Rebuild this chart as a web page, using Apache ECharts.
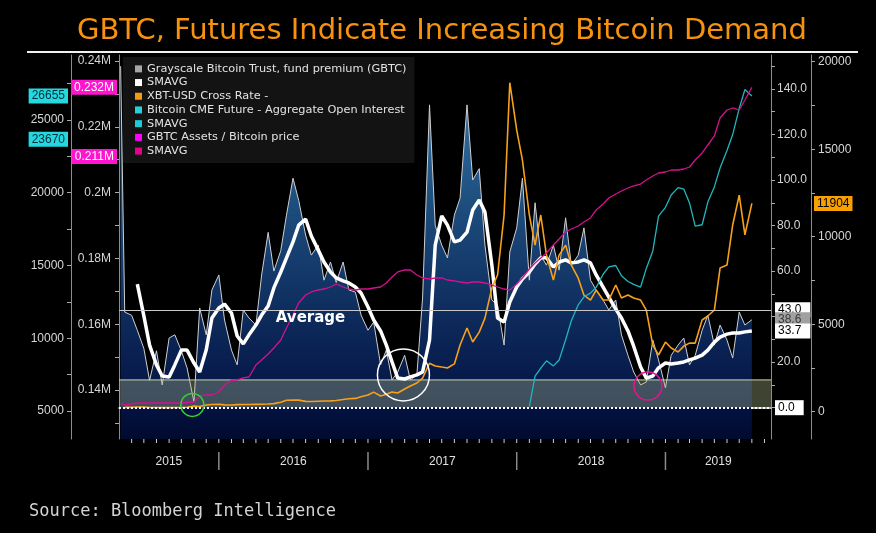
<!DOCTYPE html>
<html><head><meta charset="utf-8">
<script src="https://cdn.jsdelivr.net/npm/echarts@6/dist/echarts.min.js"></script>
<style>html,body{margin:0;padding:0;background:#000;}#c{width:876px;height:533px;}</style>
</head><body><div id="c"></div><script>
// ---- data (semi-monthly samples) ----
const dates = ['2015-05-05','2015-05-15','2015-06-01','2015-06-15','2015-07-01','2015-07-15','2015-08-01','2015-08-15','2015-09-01','2015-09-15','2015-10-01','2015-10-15','2015-11-01','2015-11-15','2015-12-01','2015-12-15',
'2016-01-01','2016-01-15','2016-02-01','2016-02-15','2016-03-01','2016-03-15','2016-04-01','2016-04-15','2016-05-01','2016-05-15','2016-06-01','2016-06-15','2016-07-01','2016-07-15','2016-08-01','2016-08-15','2016-09-01','2016-09-15','2016-10-01','2016-10-15','2016-11-01','2016-11-15','2016-12-01','2016-12-15',
'2017-01-01','2017-01-15','2017-02-01','2017-02-15','2017-03-01','2017-03-15','2017-04-01','2017-04-15','2017-05-01','2017-05-15','2017-06-01','2017-06-15','2017-07-01','2017-07-15','2017-08-01','2017-08-15','2017-09-01','2017-09-15','2017-10-01','2017-10-15','2017-11-01','2017-11-15','2017-12-01','2017-12-15',
'2018-01-01','2018-01-15','2018-02-01','2018-02-15','2018-03-01','2018-03-15','2018-04-01','2018-04-15','2018-05-01','2018-05-15','2018-06-01','2018-06-15','2018-07-01','2018-07-15','2018-08-01','2018-08-15','2018-09-01','2018-09-15','2018-10-01','2018-10-15','2018-11-01','2018-11-15','2018-12-01','2018-12-15',
'2019-01-01','2019-01-15','2019-02-01','2019-02-15','2019-03-01','2019-03-15','2019-04-01','2019-04-15','2019-05-01','2019-05-15','2019-06-01','2019-06-15','2019-07-01','2019-07-15','2019-08-01'];

// GBTC fund premium (%), right axis
const premium = [150,
42,40.6,34,26,12,25,10,30.6,32,25,17.5,2.5,43.8,32,51.7,
58.3,38.5,25.3,18.8,42.9,39.4,36.3,58.3,77,60,69,84.6,100.8,91,75.8,67,71.4,56,64,55,64,51.7,50.8,40.7,
34,37.6,18.8,25.3,12.2,15.7,23,12.2,14.4,48.2,133,80,71.4,65.8,84.6,92,133,100,105,71.4,47.3,45,27.5,68.4,
79,100.8,56,90,67,62.6,71.4,60.4,83.4,62.6,67,79,56,51.7,47.3,42.9,47.3,32,23,15.7,10,11.3,29.7,21,
8.7,23,27.5,30.6,18.8,23,34,40.6,27.5,36.3,29.7,21.8,42,36.3,38.6];

// SMAVG of the premium
const premiumSmavg = [null,
null,null,54.3,40.3,27.5,18.8,13.9,13.5,18.8,25.3,25.3,19.6,15.7,25.3,39.4,
43.8,45.5,41.6,31.5,28.0,32.0,36.3,40.7,44.7,52.6,59.6,65.8,72.8,80.2,82.8,75.4,69.2,64.0,59.6,57.0,55.7,54.8,53.0,50.4,
44.2,38.5,33.7,27.5,20.1,13.0,12.6,13.5,14.4,15.7,29.7,71.4,84.2,80.2,72.8,73.6,77.1,86.8,91.2,85.9,62.6,39.4,37.6,46.4,
53.0,56.5,59.6,63.1,65.8,65.8,61.8,64.0,64.9,63.6,64.0,64.9,63.6,58.3,53.0,48.6,43.3,39.4,33.7,27.0,17.9,13.0,13.9,17.5,
19.6,19.2,19.6,20.1,21.0,21.8,23.1,25.3,28.8,31.0,32.3,32.8,32.8,33.3,33.7];

// XBT-USD cross rate
const xbtUsd = [null,
250,250,270,270,240,240,235,235,240,240,250,330,300,380,410,
430,390,380,405,410,415,420,425,440,460,540,650,670,660,590,580,600,610,620,640,700,740,760,850,
950,1120,900,1000,1120,1070,1300,1470,1640,1920,2770,2610,2550,2500,2730,3810,4780,3980,4550,5350,7070,7810,11240,18800,
16090,14380,11240,9520,11240,8950,7520,8950,9520,8380,7630,6660,6380,6950,6380,6380,7240,6500,6670,6500,6380,5810,3810,3240,
3980,3640,3410,3750,3920,3920,5240,5470,5810,8210,8380,10670,12380,10100,11904];

// Bitcoin CME future - aggregate open interest
const cmeOpenInterest = [null,
null,null,null,null,null,null,null,null,null,null,null,null,null,null,null,
null,null,null,null,null,null,null,null,null,null,null,null,null,null,null,null,null,null,null,null,null,null,null,null,
null,null,null,null,null,null,null,null,null,null,null,null,null,null,null,null,null,null,null,null,null,null,null,null,
null,null,5300,7400,7950,8450,8100,8500,9900,11200,12300,12850,13100,13500,14400,14900,15000,14300,13900,13700,13520,14800,16000,18400,
19000,19850,20350,20250,19300,17700,17800,19360,20400,21700,22900,24000,25800,27100,26655];
const cmeSmavgLast = 23670;

// GBTC assets / bitcoin price
const gbtcAssetsPerBtc = [136050,
135440,135740,136050,136050,136050,136050,136050,136050,136050,136050,136200,136350,138180,138480,138480,
139390,141520,143040,143040,143650,143950,147600,149120,150940,152770,155200,158850,162800,166450,168880,169790,170400,170700,171310,172220,171310,170700,170400,170700,
170700,171010,171310,172530,174350,175870,176480,176480,174960,174050,173740,174050,174050,173440,173140,172830,172530,172830,172830,172530,171920,171310,170700,170400,
172220,174050,176780,178610,180130,181650,184080,185900,188030,188940,189860,191070,192290,194720,196540,198370,199580,200500,201410,202020,202620,203840,205060,205970,
206270,206880,206880,207180,207790,209920,212050,214480,217220,222690,225120,225730,225120,228160,232000];
const assetsSmavgLast = 211000;

const averagePremium = 43.0;
const bandTop = 12.2;
const yearBoundaries = ['2016-01-01','2017-01-01','2018-01-01','2019-01-01'];
const xMin = '2015-05-01', xMax = '2019-09-17';
const seriesNames = ['Grayscale Bitcoin Trust, fund premium (GBTC)','SMAVG','XBT-USD Cross Rate -','Bitcoin CME Future - Aggregate Open Interest','SMAVG\u200b','GBTC Assets / Bitcoin price','SMAVG\u200b\u200b'];
const annotations = [
  {date:'2015-10-28', value:1.2, size:23, color:'#35d431'},
  {date:'2017-03-29', value:14.4, size:52, color:'#ffffff'},
  {date:'2018-11-19', value:9.5, size:28, color:'#e8138c'}
];
const averageTextAt = {date:'2016-08-13', value:39.4};

// ---- build ----
const P = s => echarts.time.parse(s).getTime();
const pairs = arr => dates.map((d,i)=>[P(d), arr[i]]);
const tMin = P(xMin), tMax = P(xMax);
const PREM_MIN = -13.75, PREM_MAX = 154.9;
const monthTicks = [];
for (let y=2015;y<=2019;y++) for (let m=0;m<12;m++){ const t=new Date(y,m,1).getTime(); if(t>tMin && t<tMax) monthTicks.push(t); }
const bounds = [tMin, ...yearBoundaries.map(P), tMax];
const yearMids = bounds.slice(0,-1).map((b,i)=>(b+bounds[i+1])/2);
const range = (a,b,s)=>{const r=[];for(let v=a;v<=b+1e-9;v+=s)r.push(+v.toFixed(6));return r;};
const tickMarks = monthTicks.map(t=>[t,0]).concat(yearBoundaries.map(d=>[P(d),1]));

const FONT = 'Liberation Sans';
const NOLINE = {color:'rgba(0,0,0,0)', width:0};
const tag = (bg, fg, pos, dist, fmt, pad) => ({show:true, position:pos, distance:dist, backgroundColor:bg, color:fg,
  padding:pad || [2,3,1,3], fontSize:12, fontFamily:FONT, formatter:fmt});
const f1 = p => Number(p.value).toFixed(1);
const fM = p => (p.value/1e6).toFixed(3)+'M';
const fInt = p => String(Math.round(p.value));
const RPAD = [2,9,1,3];

const yBase = (extra) => Object.assign({
  type:'value', splitLine:{show:false},
  axisLine:{show:true, lineStyle:{color:'#8c8c8c', width:1}},
}, extra);

const chart = echarts.init(document.getElementById('c'), null, {renderer:'canvas'});
chart.setOption({
  backgroundColor:'#000',
  animation:false,
  title:[
    {text:'GBTC, Futures Indicate Increasing Bitcoin Demand', left:72, top:12,
     textStyle:{color:'#f7920f', fontSize:29, fontWeight:'normal', fontFamily:'DejaVu Sans'}},
    {text:'Source: Bloomberg Intelligence', left:24, top:498,
     textStyle:{color:'#d4d4d4', fontSize:17, fontWeight:'normal', fontFamily:'DejaVu Sans Mono'}}
  ],
  graphic:[{type:'line', shape:{x1:27,y1:52,x2:858,y2:52}, style:{stroke:'#f0f0f0', lineWidth:2}, silent:true}],
  legend:{
    data:seriesNames, orient:'vertical', left:123, top:57, selectedMode:false,
    backgroundColor:'rgba(20,20,20,0.93)', padding:[5,8,5,12],
    itemWidth:7, itemHeight:7, itemGap:0, icon:'rect',
    textStyle:{color:'#e2e2e2', fontSize:11.3, fontFamily:'DejaVu Sans', lineHeight:13.7}
  },
  grid:{left:119, right:105, top:55, bottom:94, containLabel:false},
  xAxis:[
    {type:'value', min:tMin, max:tMax, position:'bottom',
     axisLine:{show:true, lineStyle:{color:'#e0e0e0', width:1.5}},
     axisTick:{show:false},
     axisLabel:{show:true, customValues:yearMids, margin:17, color:'#e0e0e0', fontSize:12, fontFamily:FONT,
       formatter:v=>String(new Date(v).getFullYear())},
     splitLine:{show:false}}
  ],
  yAxis:[
    yBase({position:'left', offset:0, min:125100, max:241840,
      axisTick:{show:true, customValues:range(130000,240000,10000), length:4, lineStyle:{color:'#aaa'}},
      axisLabel:{customValues:range(140000,240000,20000), margin:8, color:'#d6d6d6', fontSize:12, fontFamily:FONT,
        formatter:v=>(v/1e6)+'M'}}),
    yBase({position:'left', offset:48, min:3076, max:29467,
      axisTick:{show:true, customValues:range(5000,27500,2500), length:4, lineStyle:{color:'#aaa'}},
      axisLabel:{customValues:range(5000,25000,5000), margin:7, color:'#d6d6d6', fontSize:12, fontFamily:FONT,
        formatter:v=>String(v)}}),
    yBase({position:'right', offset:0, min:PREM_MIN, max:PREM_MAX,
      axisTick:{show:true, customValues:range(0,150,10), length:4, lineStyle:{color:'#aaa'}},
      axisLabel:{customValues:[20,60,80,100,120,140], margin:6, color:'#d6d6d6', fontSize:12, fontFamily:FONT,
        formatter:v=>v.toFixed(1)}}),
    yBase({position:'right', offset:40, min:-1560, max:20383,
      axisTick:{show:true, customValues:range(0,20000,2500), length:4, lineStyle:{color:'#aaa'}},
      axisLabel:{customValues:range(0,20000,5000), margin:7, color:'#d6d6d6', fontSize:12, fontFamily:FONT,
        formatter:v=>String(v)}})
  ],
  series:[
    {name:seriesNames[0], type:'line', yAxisIndex:2, z:1, data:pairs(premium), symbol:'none',
     itemStyle:{color:'#a6a6a6'}, lineStyle:{color:'#cfcfcf', width:1},
     areaStyle:{origin:'start', opacity:1, color:new echarts.graphic.LinearGradient(0,0,0,1,[
       {offset:0,color:'#3a7db0'},{offset:0.35,color:'#1e5080'},{offset:0.68,color:'#0d2a5b'},{offset:0.9,color:'#041444'},{offset:1,color:'#010a30'}])},
     markLine:{silent:true, symbol:['none','none'], z:6, data:[
       {yAxis:averagePremium, lineStyle:{color:'#c8c8c8', width:1, type:'solid'}, label:tag('#ffffff','#000','end',4,f1,RPAD)},
       {yAxis:0, lineStyle:{color:'#ffffff', width:2, type:[2,2]}, label:tag('#ffffff','#000','end',4,f1,RPAD)},
       {yAxis:premium[premium.length-1], lineStyle:NOLINE, label:tag('#a0a0a0','#3a3a3a','end',4,f1,RPAD)}
     ]},
     markPoint:{silent:true, z:6, data:[
       ...annotations.map(a=>({coord:[P(a.date),a.value], symbol:'circle', symbolSize:a.size,
          itemStyle:{color:'rgba(0,0,0,0)', borderColor:a.color, borderWidth:1.5}, label:{show:false}})),
       {coord:[P(averageTextAt.date), averageTextAt.value], symbol:'circle', symbolSize:1, itemStyle:{color:'rgba(0,0,0,0)'},
        label:{show:true, position:'inside', formatter:'Average', color:'#ffffff', fontSize:15, fontWeight:'bold', fontFamily:'DejaVu Sans'}}
     ]}},
    // translucent highlight band (0 to bandTop on the premium axis)
    {name:'band', type:'line', yAxisIndex:2, z:3, silent:true, symbol:'none',
     data:[[tMin,bandTop],[tMax,bandTop]],
     lineStyle:{color:'#cdd6b4', width:1}, areaStyle:{origin:0, color:'rgba(178,190,140,0.5)'}},
    {name:seriesNames[1], type:'line', yAxisIndex:2, z:4, data:pairs(premiumSmavg), symbol:'none',
     itemStyle:{color:'#ffffff'}, lineStyle:{color:'#ffffff', width:3.5},
     markLine:{silent:true, symbol:['none','none'], z:7, data:[
       {yAxis:premiumSmavg[premiumSmavg.length-1], lineStyle:NOLINE, label:tag('#ffffff','#000','end',4,f1,RPAD)}]}},
    {name:seriesNames[2], type:'line', yAxisIndex:3, z:4, data:pairs(xbtUsd), symbol:'none',
     itemStyle:{color:'#f39a12'}, lineStyle:{color:'#f7a11a', width:1.6},
     markLine:{silent:true, symbol:['none','none'], z:7, data:[
       {yAxis:xbtUsd[xbtUsd.length-1], lineStyle:NOLINE, label:tag('#f7a000','#000','end',43,fInt)}]}},
    {name:seriesNames[3], type:'line', yAxisIndex:1, z:4, data:pairs(cmeOpenInterest), symbol:'none',
     itemStyle:{color:'#22d4d8'}, lineStyle:{color:'#1fb6bd', width:1.3},
     markLine:{silent:true, symbol:['none','none'], z:7, data:[
       {yAxis:cmeOpenInterest[cmeOpenInterest.length-1], lineStyle:NOLINE, label:tag('#25d8e0','#00303a','start',51,fInt)},
       {yAxis:cmeSmavgLast, lineStyle:NOLINE, label:tag('#25d8e0','#00303a','start',51,fInt)}]}},
    {name:seriesNames[4], type:'line', yAxisIndex:1, data:[], symbol:'none',
     itemStyle:{color:'#19ccd6'}, lineStyle:{color:'#19ccd6', width:1.3}},
    {name:seriesNames[5], type:'line', yAxisIndex:0, z:4, data:pairs(gbtcAssetsPerBtc), symbol:'none',
     itemStyle:{color:'#ff00ff'}, lineStyle:{color:'#d3128e', width:1.3},
     markLine:{silent:true, symbol:['none','none'], z:7, data:[
       {yAxis:gbtcAssetsPerBtc[gbtcAssetsPerBtc.length-1], lineStyle:NOLINE, label:tag('#ff14d0','#ffffff','start',2,fM)},
       {yAxis:assetsSmavgLast, lineStyle:NOLINE, label:tag('#ff14d0','#ffffff','start',2,fM)}]}},
    {name:seriesNames[6], type:'line', yAxisIndex:0, data:[], symbol:'none',
     itemStyle:{color:'#e8008a'}, lineStyle:{color:'#e8008a', width:1.3}},
    // month ticks under the axis line and year separators between the year labels
    {name:'ticks', type:'custom', yAxisIndex:2, z:8, silent:true, clip:false, data:tickMarks,
     renderItem:(params, api)=>{
       const p = api.coord([api.value(0), PREM_MIN]);
       const isYear = api.value(1) === 1;
       return {type:'line', shape:{x1:p[0], y1:p[1]+(isYear?13:0), x2:p[0], y2:p[1]+(isYear?31:4)},
               style:{stroke:isYear?'#8a8a8a':'#d0d0d0', lineWidth:isYear?1.5:1}};
     }}
  ]
});
</script></body></html>
